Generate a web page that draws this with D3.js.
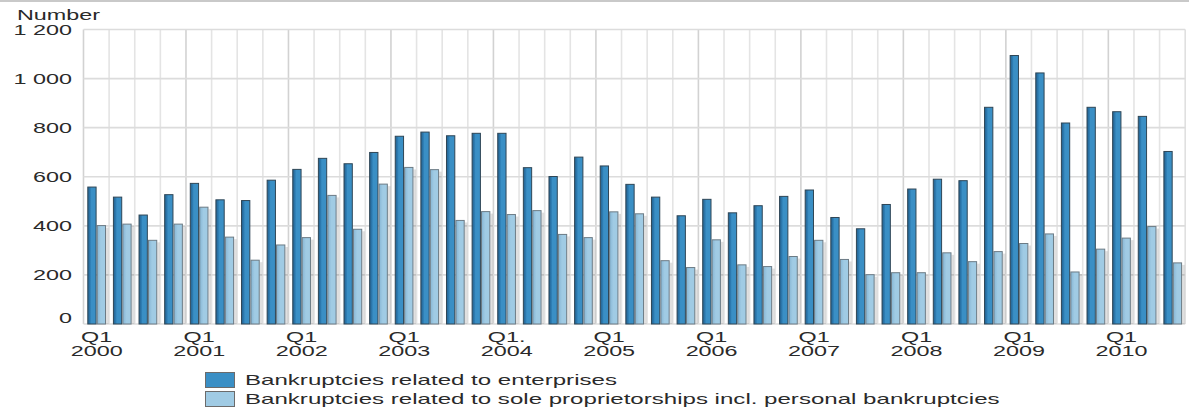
<!DOCTYPE html>
<html><head><meta charset="utf-8">
<script src="https://cdn.jsdelivr.net/npm/d3@7"></script>
<style>
body{margin:0;background:#fff}
svg{display:block}
text{font-family:"Liberation Sans",Arial,sans-serif;fill:#2a2a2a}
</style>
</head><body>
<svg id="c" width="1189" height="416"></svg>
<script>
const years = ["2000","2001","2002","2003","2004","2005","2006","2007","2008","2009","2010"];
const quarterNames = ["Q1","Q2","Q3","Q4"];
const categories = [];
years.forEach(yr => quarterNames.forEach(q => { if (!(yr === "2010" && q === "Q4")) categories.push(yr + " " + q); }));

const enterprises = [
  558, 517, 444, 527,
  573, 506, 503, 586,
  630, 675, 653, 699,
  765, 782, 767, 777,
  777, 637, 601, 680,
  644, 569, 517, 441,
  508, 453, 482, 520,
  546, 434, 388, 487,
  550, 590, 584, 883,
  1094, 1023, 819, 883,
  865, 846, 703
];
const soleProprietorships = [
  401, 407, 341, 407,
  476, 354, 260, 322,
  352, 524, 386, 570,
  638, 629, 422, 458,
  446, 462, 365, 352,
  457, 449, 258, 230,
  343, 241, 234, 275,
  341, 263, 201, 209,
  209, 290, 254, 295,
  328, 367, 212, 305,
  350, 397, 249
];
const seriesKeys = ["enterprises", "sole"];
const seriesNames = [
  "Bankruptcies related to enterprises",
  "Bankruptcies related to sole proprietorships incl. personal bankruptcies"
];
const yTicks = [0, 200, 400, 600, 800, 1000, 1200];
const yTickLabels = ["0", "200", "400", "600", "800", "1 000", "1 200"];
const xTickQuarterLabels = ["Q1","Q1","Q1","Q1","Q1.","Q1","Q1","Q1","Q1","Q1","Q1"];
const xTickYearLabels = years;
const yAxisTitle = "Number";

(function () {
const svg = d3.select("#c");
const SX = 1.67, SXL = 1.72;
const pLeft = 83.5, pRight = 1185.2, pTop = 29.5, pBottom = 324;

const x0 = d3.scaleBand().domain(categories).range([pLeft, pRight]).padding(0);
const x1 = d3.scaleOrdinal().domain(seriesKeys).range([3.8, 13.2]);
const barW = 9.3;
const y = d3.scaleLinear().domain([0, 1200]).range([pBottom, pTop]);

const defs = svg.append("defs");
function grad(id, stops) {
  const g = defs.append("linearGradient").attr("id", id).attr("x1", "0%").attr("x2", "100%").attr("y1", "0%").attr("y2", "0%");
  stops.forEach(s => g.append("stop").attr("offset", s[0]).attr("stop-color", s[1]));
}
grad("gDark", [["0%", "#225f8c"], ["30%", "#2e7db3"], ["42%", "#3a8fc5"], ["100%", "#3a8fc5"]]);
grad("gLight", [["0%", "#86b6d4"], ["30%", "#98c4df"], ["45%", "#a0cbe4"], ["100%", "#a0cbe4"]]);

svg.append("line").attr("x1", 0).attr("x2", 1189).attr("y1", 1).attr("y2", 1)
  .attr("stroke", "#c9c9c9").attr("stroke-width", 2);

const vg = svg.append("g");
categories.forEach((c, i) => {
  const xx = x0(c);
  vg.append("line").attr("x1", xx).attr("x2", xx).attr("y1", pTop).attr("y2", pBottom)
    .attr("stroke", i % 4 === 0 ? "#d2d2d2" : "#e4e4e4").attr("stroke-width", 1.6);
});
vg.append("line").attr("x1", pRight).attr("x2", pRight).attr("y1", pTop).attr("y2", pBottom)
  .attr("stroke", "#e0e0e0").attr("stroke-width", 1.6);

svg.append("g").selectAll("line").data(yTicks).join("line")
  .attr("x1", pLeft).attr("x2", pRight)
  .attr("y1", d => y(d)).attr("y2", d => y(d))
  .attr("stroke", "#dcdcdc").attr("stroke-width", 1.6);

svg.append("g").selectAll("text").data(yTicks).join("text")
  .attr("transform", (d) => `translate(72,${y(d) + 5 - (d === 0 ? 6 : 0)}) scale(${SX},1)`)
  .attr("text-anchor", "end").attr("font-size", 14)
  .text((d, i) => yTickLabels[i]);

svg.append("text").attr("transform", `translate(17,20) scale(${SX},1)`)
  .attr("font-size", 14).text(yAxisTitle);

const data = categories.map((c, i) => ({ c, enterprises: enterprises[i], sole: soleProprietorships[i] }));
const fills = { enterprises: "url(#gDark)", sole: "url(#gLight)" };
const strokes = { enterprises: "#2f4656", sole: "#6c7b85" };
const groups = svg.append("g").selectAll("g").data(data).join("g")
  .attr("transform", d => `translate(${x0(d.c)},0)`);
groups.append("rect")
  .attr("x", x1("sole") + barW).attr("width", 2.6)
  .attr("y", d => y(d.sole) + 2).attr("height", d => pBottom - y(d.sole) - 2)
  .attr("fill", "#000").attr("opacity", 0.12);
groups.selectAll("rect.bar").data(d => seriesKeys.map(k => ({ k, v: d[k] }))).join("rect")
  .attr("class", "bar")
  .attr("x", d => x1(d.k) + 0.5).attr("width", barW - 1)
  .attr("y", d => y(d.v)).attr("height", d => pBottom - y(d.v))
  .attr("fill", d => fills[d.k]).attr("stroke", d => strokes[d.k]).attr("stroke-width", 1);

const tickCats = categories.filter((c, i) => i % 4 === 0);
const xl = svg.append("g").selectAll("g").data(tickCats).join("g")
  .attr("transform", d => `translate(${x0(d) + 13.2},0)`);
xl.append("text").attr("transform", `translate(0,342) scale(${SX},1)`).attr("text-anchor", "middle")
  .attr("font-size", 14).text((d, i) => xTickQuarterLabels[i]);
xl.append("text").attr("transform", `translate(0,356) scale(${SX},1)`).attr("text-anchor", "middle")
  .attr("font-size", 14).text((d, i) => xTickYearLabels[i]);

const legFill = ["#3a8fc5", "#a0cbe4"];
const leg = svg.append("g").selectAll("g").data(seriesNames).join("g")
  .attr("transform", (d, i) => `translate(205,${372 + i * 19})`);
leg.append("rect").attr("x", 0.5).attr("y", 0.5).attr("width", 29).attr("height", 15)
  .attr("fill", (d, i) => legFill[i]).attr("stroke", "#6b6b6b").attr("stroke-width", 1);
leg.append("text").attr("transform", `translate(40,13) scale(${SXL},1)`)
  .attr("font-size", 14).text(d => d);
})();
</script>
</body></html>
